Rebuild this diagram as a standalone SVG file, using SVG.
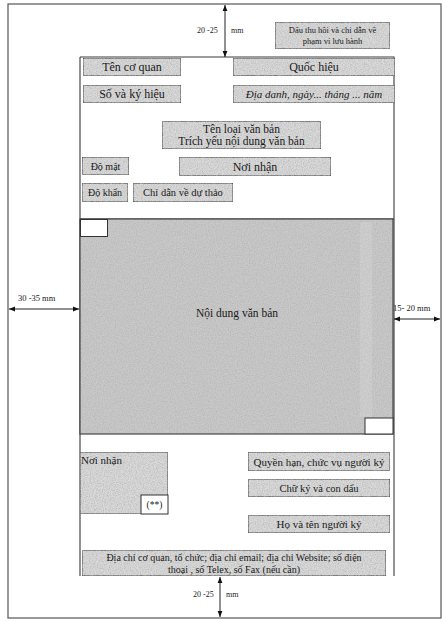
<svg xmlns="http://www.w3.org/2000/svg" width="447" height="622" viewBox="0 0 447 622">
<style>
text{font-family:"Liberation Serif","Times New Roman",serif;fill:#1a1a1a}
.box{fill:#dadada;stroke:#333;stroke-width:1.1}
.frame{fill:none;stroke:#3a3a3a;stroke-width:1.1}
.page{fill:#fff;stroke:#555;stroke-width:1.2}
.white{fill:#fff;stroke:#333;stroke-width:1}
.arrow{stroke:#222;stroke-width:1;fill:none;marker-start:url(#ah);marker-end:url(#ah)}
.c{text-anchor:middle}
</style>
<defs>
<filter id="grain" x="0" y="0" width="1" height="1">
<feTurbulence type="fractalNoise" baseFrequency="0.85" numOctaves="2" seed="4" result="n"/>
<feColorMatrix in="n" type="matrix" values="0 0 0 0 0.45 0 0 0 0 0.45 0 0 0 0 0.45 0 0 0 1.6 -0.55" result="g"/>
<feComposite in="g" in2="SourceGraphic" operator="in" result="gc"/>
<feMerge><feMergeNode in="SourceGraphic"/><feMergeNode in="gc"/></feMerge>
</filter>
<marker id="ah" viewBox="0 0 10 10" refX="10" refY="5" markerWidth="6" markerHeight="6" orient="auto-start-reverse">
<path d="M0,1 L10,5 L0,9 z" fill="#111"/>
</marker>
</defs>
<rect width="447" height="622" fill="#fff"/>
<rect class="page" x="8" y="4" width="433" height="614"/>
<g id="frame">
<path class="frame" d="M80,57 H394 V576 M80,57 V576"/>
<line class="frame" x1="80" y1="219" x2="394" y2="219"/>
</g>
<g id="noi-dung">
<rect x="80" y="219" width="313" height="215" fill="#c9c9c9" filter="url(#grain)"/>
<rect x="360" y="222" width="12" height="195" fill="#fff" opacity="0.12"/>
<rect class="frame" x="80" y="219" width="313" height="215"/>
<rect class="white" x="80.5" y="219.5" width="27" height="17"/>
<rect class="white" x="365" y="418" width="28" height="16"/>
<text class="c" x="237" y="317" font-size="11.5">Nội dung văn bản</text>
</g>
<g id="dau-thu-hoi">
<rect class="box" x="275" y="22" width="115" height="27" filter="url(#grain)"/>
<text class="c" x="332.5" y="33" font-size="8.5">Dấu thu hồi và chỉ dẫn về</text>
<text class="c" x="332.5" y="44" font-size="8.5">phạm vi lưu hành</text>
</g>
<g id="ten-co-quan">
<rect class="box" x="83" y="58" width="98" height="18" filter="url(#grain)"/>
<text class="c" x="132" y="71" font-size="12">Tên cơ quan</text>
</g>
<g id="quoc-hieu">
<rect class="box" x="233" y="58" width="162" height="18" filter="url(#grain)"/>
<text class="c" x="314" y="71" font-size="12">Quốc hiệu</text>
</g>
<g id="so-ky-hieu">
<rect class="box" x="83" y="85" width="98" height="18" filter="url(#grain)"/>
<text class="c" x="132" y="98" font-size="12">Số và ký hiệu</text>
</g>
<g id="dia-danh">
<rect class="box" x="233" y="85" width="162" height="18" filter="url(#grain)"/>
<text class="c" x="314" y="98" font-size="11" font-style="italic">Địa danh, ngày... tháng ... năm</text>
</g>
<g id="ten-loai">
<rect class="box" x="162" y="121" width="159" height="28" filter="url(#grain)"/>
<text class="c" x="241.5" y="133" font-size="11.5">Tên loại văn bản</text>
<text class="c" x="241.5" y="145" font-size="11.5">Trích yếu nội dung văn bản</text>
</g>
<g id="do-mat">
<rect class="box" x="82" y="157" width="47" height="18" filter="url(#grain)"/>
<text class="c" x="105.5" y="169.5" font-size="10">Độ mật</text>
</g>
<g id="noi-nhan-top">
<rect class="box" x="179" y="157" width="152" height="19" filter="url(#grain)"/>
<text class="c" x="255" y="170.5" font-size="12">Nơi nhận</text>
</g>
<g id="do-khan">
<rect class="box" x="82" y="183" width="46" height="19" filter="url(#grain)"/>
<text class="c" x="105" y="196" font-size="10">Độ khẩn</text>
</g>
<g id="chi-dan">
<rect class="box" x="133" y="183" width="100" height="19" filter="url(#grain)"/>
<text class="c" x="183" y="196" font-size="10.5">Chỉ dẫn về dự thảo</text>
</g>
<g id="noi-nhan-bottom">
<rect class="box" x="80" y="452" width="88" height="62" filter="url(#grain)"/>
<text x="81" y="464" font-size="11">Nơi nhận</text>
<rect class="white" x="141" y="495" width="27" height="19"/>
<text class="c" x="154.5" y="508" font-size="9.5">(**)</text>
</g>
<g id="quyen-han">
<rect class="box" x="248" y="452" width="142" height="19" filter="url(#grain)"/>
<text class="c" x="319" y="465.5" font-size="11">Quyền hạn, chức vụ người ký</text>
</g>
<g id="chu-ky">
<rect class="box" x="248" y="479" width="142" height="18" filter="url(#grain)"/>
<text class="c" x="319" y="492" font-size="10.5">Chữ ký và con dấu</text>
</g>
<g id="ho-ten">
<rect class="box" x="248" y="515" width="142" height="18" filter="url(#grain)"/>
<text class="c" x="319" y="528" font-size="11">Họ và tên người ký</text>
</g>
<g id="dia-chi">
<rect class="box" x="82" y="550" width="304" height="26" filter="url(#grain)"/>
<text class="c" x="234" y="561" font-size="10">Địa chỉ cơ quan, tổ chức; địa chỉ email; địa chỉ Website; số điện</text>
<text class="c" x="234" y="573" font-size="10">thoại , số Telex, số Fax (nếu cần)</text>
</g>
<g id="connectors">
<line class="arrow" x1="225" y1="5" x2="225" y2="57"/>
<line class="arrow" x1="220" y1="577" x2="220" y2="617"/>
<line class="arrow" x1="9" y1="309" x2="79" y2="309"/>
<line class="arrow" x1="394" y1="319" x2="440" y2="319"/>
</g>
<g id="labels">
<text x="197" y="33" font-size="8">20 -25</text>
<text x="231" y="33" font-size="8">mm</text>
<text x="193" y="597" font-size="8">20 -25</text>
<text x="226" y="597" font-size="8">mm</text>
<text x="18" y="301" font-size="8.5">30 -35  mm</text>
<text x="393" y="311" font-size="8.5">15- 20 mm</text>
</g>
</svg>
